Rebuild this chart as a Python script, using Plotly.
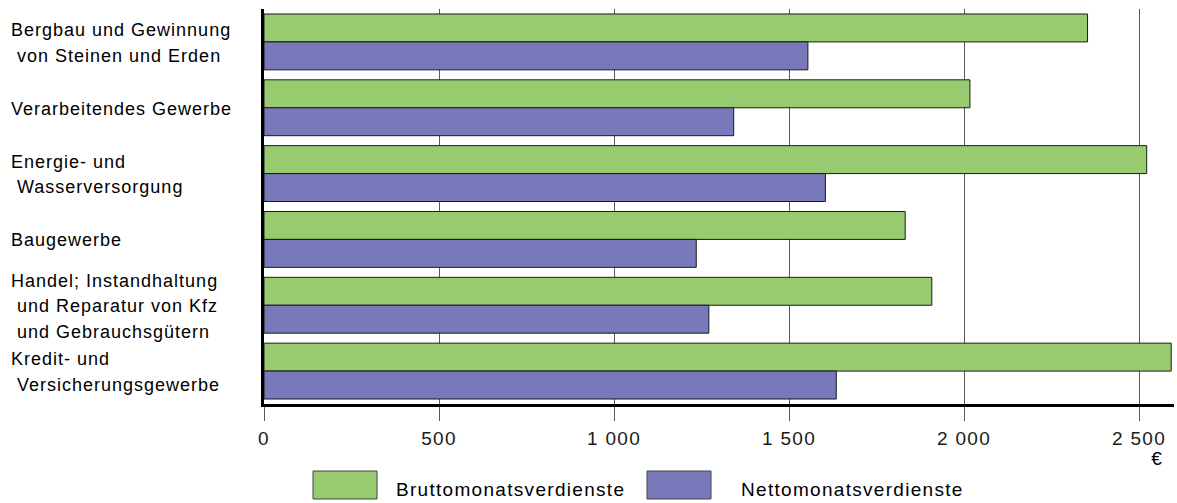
import plotly.graph_objects as go

categories = [
    "Bergbau und Gewinnung von Steinen und Erden",
    "Verarbeitendes Gewerbe",
    "Energie- und Wasserversorgung",
    "Baugewerbe",
    "Handel; Instandhaltung und Reparatur von Kfz und Gebrauchsgütern",
    "Kredit- und Versicherungsgewerbe",
]
label_lines = [
    ["Bergbau und Gewinnung", "\u00a0von Steinen und Erden"],
    ["Verarbeitendes Gewerbe"],
    ["Energie- und", "\u00a0Wasserversorgung"],
    ["Baugewerbe"],
    ["Handel; Instandhaltung", "\u00a0und Reparatur von Kfz", "\u00a0und Gebrauchsgütern"],
    ["Kredit- und", "\u00a0Versicherungsgewerbe"],
]
brutto = [2353, 2017, 2522, 1832, 1908, 2592]
netto = [1554, 1342, 1604, 1235, 1271, 1635]
series_names = ["Bruttomonatsverdienste", "Nettomonatsverdienste"]
tick_vals = [0, 500, 1000, 1500, 2000, 2500]
tick_text = ["0", "500", "1 000", "1 500", "2 000", "2 500"]
unit_label = "€"

GREEN = "#98CB70"
PURPLE = "#7779BA"
FONT = "Liberation Sans, Arial, sans-serif"

W, H = 1177, 503
ML, MR, MT, MB = 264, 3, 9, 99
PW = W - ML - MR
PH = H - MT - MB


def px(x):
    return (x - ML) / PW


def py(y):
    return (H - MB - y) / PH


fig = go.Figure()
fig.add_trace(go.Bar(
    y=categories, x=brutto, name=series_names[0], orientation="h",
    marker=dict(color=GREEN, line=dict(color="#1a1a1a", width=1)),
    showlegend=False,
))
fig.add_trace(go.Bar(
    y=categories, x=netto, name=series_names[1], orientation="h",
    marker=dict(color=PURPLE, line=dict(color="#1a1a1a", width=1)),
    showlegend=False,
))

annotations = []
LS = 25.5
for cat, lines in zip(categories, label_lines):
    n = len(lines)
    for i, line in enumerate(lines):
        annotations.append(dict(
            x=px(9), xref="paper", y=cat, yref="y",
            text=line, showarrow=False, xanchor="left", yanchor="middle",
            align="left", yshift=((n - 1) / 2 - i) * LS - 1,
            font=dict(family=FONT, size=18, color="#000"),
        ))

annotations.append(dict(
    x=px(1157), xref="paper", y=py(458), yref="paper", text=unit_label,
    showarrow=False, xanchor="center", yanchor="middle",
    font=dict(family=FONT, size=19, color="#000"),
))

shapes = []
legend_items = [(313, 394, GREEN), (647, 739, PURPLE)]
for (bx, tx, col), name in zip(legend_items, series_names):
    shapes.append(dict(
        type="rect", xref="paper", yref="paper",
        x0=px(bx), x1=px(bx + 64), y0=py(499), y1=py(471),
        fillcolor=col, line=dict(color="#444", width=1),
    ))
    annotations.append(dict(
        x=px(tx), xref="paper", y=py(489), yref="paper", text=name,
        showarrow=False, xanchor="left", yanchor="middle", align="left",
        font=dict(family=FONT, size=19, color="#000"),
    ))

fig.update_layout(
    width=W, height=H,
    margin=dict(l=ML, r=MR, t=MT, b=MB, pad=0),
    paper_bgcolor="white", plot_bgcolor="white",
    barmode="group", bargap=10 / 66, bargroupgap=0,
    annotations=annotations, shapes=shapes,
    showlegend=False,
    font=dict(family=FONT, size=19, color="#000"),
)
fig.update_xaxes(
    range=[0, 2600], tickvals=tick_vals, ticktext=tick_text,
    showgrid=True, gridcolor="#5a5a5a", gridwidth=1,
    zeroline=False, showline=True, linecolor="#000", linewidth=3,
    ticks="outside", ticklen=14, tickcolor="#5a5a5a", tickwidth=1,
    ticklabelstandoff=1,
    tickfont=dict(family=FONT, size=19, color="#1a1a1a"),
)
fig.update_yaxes(
    categoryorder="array", categoryarray=categories,
    autorange="reversed", showticklabels=False, ticks="",
    showgrid=False, zeroline=False,
    showline=True, linecolor="#000", linewidth=3,
)

post = """
document.body.style.margin = '0';
document.body.style.padding = '0';
var gd = document.getElementById('{plot_id}');
gd.querySelectorAll('text').forEach(function(t){
  var fs = parseFloat(t.style.fontSize) || 19;
  t.style.letterSpacing = (fs < 18.5 ? '1.0px' : '1.3px');
});
"""
fig.write_html("out.html", post_script=post, config={"displayModeBar": False})
